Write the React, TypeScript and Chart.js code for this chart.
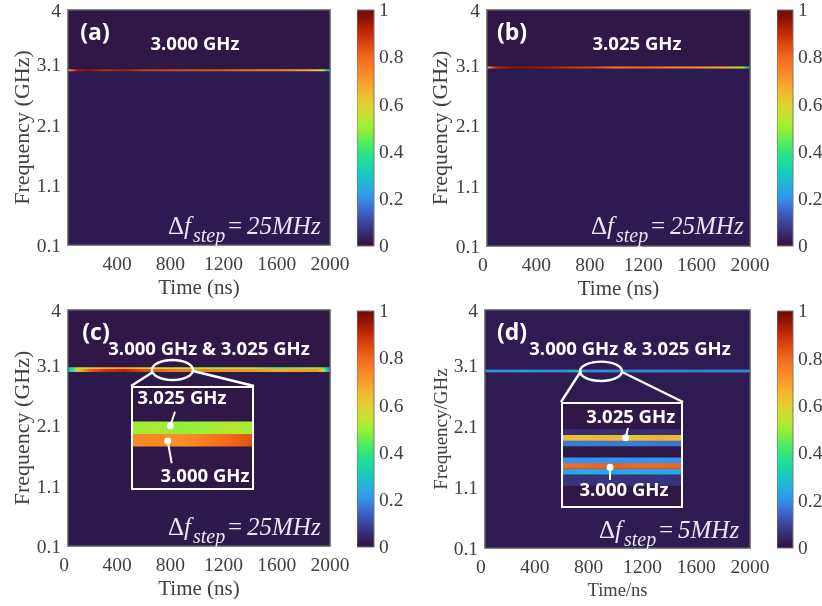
import React, { useEffect, useRef } from "react";
import { Chart, registerables } from "chart.js";

Chart.register(...registerables);

// ---------- data ----------
const freqTicks = [0.1, 1.1, 2.1, 3.1, 4];
const timeTicksNoZero = [400, 800, 1200, 1600, 2000];
const timeTicks = [0, 400, 800, 1200, 1600, 2000];
const colorTicks = [0, 0.2, 0.4, 0.6, 0.8, 1];

const colorPositions = [0, 0.05, 0.1, 0.15, 0.2, 0.25, 0.3, 0.35, 0.4, 0.45, 0.5, 0.55, 0.6, 0.65, 0.7, 0.75, 0.8, 0.85, 0.9, 0.95, 1];
const colorValues = ["#30123b", "#37296e", "#3b469c", "#3d66c8", "#3490ee", "#25aee0", "#1ac6c0", "#1cdca0", "#30e67c", "#62ee52", "#9cef34", "#c4e42e", "#e2d030", "#f3b82e", "#fa9c2a", "#f88224", "#f2681c", "#de4a10", "#c42c08", "#9a1606", "#6e0a08"];

const timeA = [30, 60, 100, 200, 300, 450, 600, 800, 1000, 1200, 1400, 1600, 1800, 1900, 1950, 1975, 2000];
const ampA = [0.55, 0.8, 0.93, 0.97, 0.9, 0.94, 0.88, 0.86, 0.84, 0.83, 0.78, 0.76, 0.7, 0.62, 0.55, 0.3, 0.2];
const ampB = [0.5, 0.78, 0.9, 0.95, 0.96, 0.94, 0.9, 0.86, 0.76, 0.8, 0.74, 0.72, 0.66, 0.58, 0.52, 0.3, 0.2];

const timeC = [30, 60, 100, 200, 300, 450, 600, 800, 1000, 1200, 1400, 1600, 1800, 1900, 1950, 1975, 2000];
const ampC3025 = [0.28, 0.34, 0.5, 0.62, 0.66, 0.68, 0.62, 0.56, 0.5, 0.5, 0.52, 0.44, 0.48, 0.5, 0.44, 0.3, 0.2];
const ampC3000 = [0.28, 0.36, 0.62, 0.82, 0.88, 0.92, 0.85, 0.78, 0.76, 0.74, 0.72, 0.68, 0.7, 0.72, 0.62, 0.34, 0.2];

const timeD = [30, 100, 200, 300, 400, 500, 600, 700, 800, 900, 1000, 1100, 1200, 1400, 1600, 1800, 1900, 1975, 2000];
const ampD = [0.24, 0.26, 0.23, 0.3, 0.24, 0.26, 0.22, 0.33, 0.21, 0.25, 0.22, 0.21, 0.23, 0.21, 0.22, 0.21, 0.2, 0.23, 0.3];
const ampDHalo = [0.12, 0.12, 0.11, 0.12, 0.12, 0.11, 0.12, 0.12, 0.11, 0.12, 0.12, 0.11, 0.12, 0.12, 0.11, 0.12, 0.12, 0.11, 0.12];

const insetTimeC = [650, 710, 770, 830, 890, 950];
const insetC3025 = [0.5, 0.52, 0.49, 0.5, 0.53, 0.5];
const insetC3000 = [0.73, 0.74, 0.72, 0.76, 0.8, 0.84];

const insetTimeD = [650, 710, 770, 830, 890, 950];
const insetD3030 = [0.06, 0.05, 0.06, 0.05, 0.06, 0.05];
const insetD3025 = [0.64, 0.63, 0.65, 0.62, 0.66, 0.64];
const insetD3020 = [0.17, 0.18, 0.17, 0.18, 0.17, 0.17];
const insetD3005 = [0.21, 0.2, 0.21, 0.2, 0.21, 0.2];
const insetD3000 = [0.78, 0.8, 0.82, 0.8, 0.8, 0.81];
const insetD2995 = [0.23, 0.24, 0.23, 0.24, 0.23, 0.24];
const insetD2990 = [0.07, 0.06, 0.07, 0.06, 0.07, 0.06];

// ---------- helpers ----------
const STRIP = "#2f1747";
const SERIF = '"Liberation Serif", "Times New Roman", serif';
const SANS = '"Open Sans", "Noto Sans", sans-serif';
const TEXT = "#404040";
const FRAME = "#5a5a5a";

function hexToRgb(h: string) {
  return [parseInt(h.slice(1, 3), 16), parseInt(h.slice(3, 5), 16), parseInt(h.slice(5, 7), 16)];
}
function colormap(v: number) {
  let i = 0;
  while (i < colorPositions.length - 2 && v > colorPositions[i + 1]) i++;
  const t = Math.max(0, Math.min(1, (v - colorPositions[i]) / (colorPositions[i + 1] - colorPositions[i])));
  const a = hexToRgb(colorValues[i]);
  const b = hexToRgb(colorValues[i + 1]);
  return `rgb(${a.map((c, k) => Math.round(c + (b[k] - c) * t)).join(",")})`;
}

function track(times: number[], freq: number, amps: number[], width: number) {
  return {
    data: times.map((t) => ({ x: t, y: freq })),
    showLine: true,
    pointRadius: 0,
    borderWidth: width,
    borderCapStyle: "butt",
    borderColor: (ctx: any) => {
      const chart = ctx.chart;
      if (!chart.chartArea || !chart.scales.x) return colormap(amps[0]);
      const x0 = chart.scales.x.getPixelForValue(times[0]);
      const x1 = chart.scales.x.getPixelForValue(times[times.length - 1]);
      const g = chart.ctx.createLinearGradient(x0, 0, x1, 0);
      times.forEach((t, i) => g.addColorStop((t - times[0]) / (times[times.length - 1] - times[0]), colormap(amps[i])));
      return g;
    },
  };
}

// Chart.js reserves half a tick label beyond the plot; the canvas margins already hold it.
function noScalePadding(s: any) {
  s.paddingTop = 0;
  s.paddingBottom = 0;
  s.paddingLeft = 0;
  s.paddingRight = 0;
}

type Txt = { s: string; x: number; y: number; size?: number };
type Panel = {
  key: string;
  left: number; right: number; top: number; bottom: number;
  xTicks: number[];
  yTitle: string; xTitle: string;
  yTitleSize: number; xTitleSize: number;
  yTitlePad: number; xTitlePad: number;
  floor: string;
  strip: number | null;
  tracks: any[];
  letter: Txt;
  labels: Txt[];
  delta: { x: number; y: number; value: string };
  callout?: { cx: number; cy: number; rx: number; ry: number; lines: number[][] };
  cb: { left: number; right: number; top: number; bottom: number };
};

const panels: Panel[] = [
  {
    key: "a", left: 68, right: 330, top: 10, bottom: 245, xTicks: timeTicksNoZero,
    yTitle: "Frequency (GHz)", xTitle: "Time (ns)", yTitleSize: 22, xTitleSize: 21, yTitlePad: 10, xTitlePad: 6,
    floor: "#2c1a50", strip: 3.03,
    tracks: [track(timeA, 3.0, ampA, 2)],
    letter: { s: "(a)", x: 95, y: 33 },
    labels: [{ s: "3.000 GHz", x: 195, y: 45 }],
    delta: { x: 168, y: 234, value: "25MHz" },
    cb: { left: 357, right: 374, top: 10, bottom: 246 },
  },
  {
    key: "b", left: 487, right: 750, top: 10, bottom: 246, xTicks: timeTicks,
    yTitle: "Frequency (GHz)", xTitle: "Time (ns)", yTitleSize: 22, xTitleSize: 21, yTitlePad: 9, xTitlePad: 6,
    floor: "#2c1a50", strip: 3.08,
    tracks: [track(timeA, 3.05, ampB, 2)],
    letter: { s: "(b)", x: 512, y: 33 },
    labels: [{ s: "3.025 GHz", x: 637, y: 45 }],
    delta: { x: 591, y: 234, value: "25MHz" },
    cb: { left: 777, right: 793, top: 10, bottom: 246 },
  },
  {
    key: "c", left: 68, right: 330, top: 310, bottom: 546, xTicks: timeTicks,
    yTitle: "Frequency (GHz)", xTitle: "Time (ns)", yTitleSize: 22, xTitleSize: 21, yTitlePad: 10, xTitlePad: 6,
    floor: "#2c1a4c", strip: 3.05,
    tracks: [track(timeC, 3.0, ampC3000, 3), track(timeC, 3.035, ampC3025, 2.4)],
    letter: { s: "(c)", x: 96, y: 333 },
    labels: [{ s: "3.000 GHz & 3.025 GHz", x: 209, y: 350 }],
    delta: { x: 168, y: 535, value: "25MHz" },
    callout: { cx: 172.5, cy: 370, rx: 20.5, ry: 10, lines: [[153, 372, 131, 386], [193, 371, 254, 386]] },
    cb: { left: 357, right: 374, top: 311, bottom: 547 },
  },
  {
    key: "d", left: 485, right: 750, top: 310, bottom: 548, xTicks: timeTicks,
    yTitle: "Frequency/GHz", xTitle: "Time/ns", yTitleSize: 19, xTitleSize: 18.5, yTitlePad: 14, xTitlePad: 8,
    floor: "#2d1b52", strip: null,
    tracks: [track(timeD, 3.0, ampD, 1.6), track(timeD, 3.0, ampDHalo, 3.6)],
    letter: { s: "(d)", x: 512, y: 333 },
    labels: [{ s: "3.000 GHz & 3.025 GHz", x: 630, y: 350 }],
    delta: { x: 599, y: 538, value: "5MHz" },
    callout: { cx: 601, cy: 371.3, rx: 21, ry: 9.7, lines: [[581, 371, 561, 402], [622, 372, 683, 402]] },
    cb: { left: 777, right: 793, top: 311, bottom: 548 },
  },
];

type Inset = {
  key: string;
  left: number; right: number; top: number; bottom: number;
  tMin: number; tMax: number; fMin: number; fMax: number;
  tracks: any[];
  labels: Txt[];
  dots: number[][];
  leaders: number[][];
};

const insets: Inset[] = [
  {
    key: "ic", left: 131, right: 254, top: 386, bottom: 490,
    tMin: 650, tMax: 950, fMin: 2.9005, fMax: 3.1085,
    tracks: [track(insetTimeC, 3.025, insetC3025, 12.5), track(insetTimeC, 3.0, insetC3000, 12.5)],
    labels: [{ s: "3.025 GHz", x: 182, y: 399 }, { s: "3.000 GHz", x: 205, y: 477 }],
    dots: [[170.3, 425.7], [167.7, 441]],
    leaders: [[170.3, 425.7, 175, 411.7], [167.7, 441, 171.7, 463.3]],
  },
  {
    key: "id", left: 561, right: 683, top: 402, bottom: 508,
    tMin: 650, tMax: 950, fMin: 2.9627, fMax: 3.0567,
    tracks: [
      track(insetTimeD, 3.03, insetD3030, 5.8),
      track(insetTimeD, 3.025, insetD3025, 5.8),
      track(insetTimeD, 3.02, insetD3020, 5.8),
      track(insetTimeD, 3.005, insetD3005, 5.8),
      track(insetTimeD, 3.0, insetD3000, 5.8),
      track(insetTimeD, 2.995, insetD2995, 5.8),
      track(insetTimeD, 2.99, insetD2990, 5.8),
      track(insetTimeD, 2.985, insetD2990, 5.8),
    ],
    labels: [{ s: "3.025 GHz", x: 630.7, y: 418 }, { s: "3.000 GHz", x: 624, y: 491 }],
    dots: [[625.7, 437.7], [610, 467.3]],
    leaders: [[625.7, 437.7, 628, 428], [610, 467.3, 610, 480]],
  },
];

const M = { l: 68, r: 24, t: 10, b: 62 };

function sansLabel(ctx: CanvasRenderingContext2D, t: Txt, size: number) {
  ctx.font = `bold ${size}px ${SANS}`;
  ctx.fillStyle = "#ffffff";
  ctx.textAlign = "center";
  ctx.textBaseline = "middle";
  ctx.fillText(t.s, t.x, t.y);
}

function makePanel(canvas: HTMLCanvasElement, p: Panel) {
  const originX = p.left - M.l;
  const originY = p.top - M.t;
  const plugin = {
    id: "panelDecor",
    beforeDatasetsDraw(chart: any) {
      const { ctx, chartArea: a, scales } = chart;
      ctx.save();
      ctx.fillStyle = p.floor;
      ctx.fillRect(a.left, a.top, a.right - a.left, a.bottom - a.top);
      if (p.strip !== null) {
        ctx.fillStyle = STRIP;
        ctx.fillRect(a.left, a.top, a.right - a.left, scales.y.getPixelForValue(p.strip) - a.top);
      }
      ctx.restore();
    },
    afterDraw(chart: any) {
      const { ctx, chartArea: a } = chart;
      ctx.save();
      ctx.strokeStyle = FRAME;
      ctx.lineWidth = 1.5;
      ctx.strokeRect(a.left, a.top, a.right - a.left, a.bottom - a.top);
      ctx.translate(-originX, -originY);
      sansLabel(ctx, p.letter, 23);
      p.labels.forEach((t) => sansLabel(ctx, t, 18.5));
      // delta f label
      const d = p.delta;
      ctx.fillStyle = "#ebe6f2";
      ctx.textAlign = "left";
      ctx.textBaseline = "alphabetic";
      ctx.font = `25px ${SERIF}`;
      ctx.fillText("Δ", d.x, d.y);
      ctx.font = `italic 25px ${SERIF}`;
      ctx.fillText("f", d.x + 16, d.y);
      ctx.font = `italic 20px ${SERIF}`;
      ctx.fillText("step", d.x + 25, d.y + 8);
      ctx.font = `25px ${SERIF}`;
      ctx.fillText("=", d.x + 60, d.y);
      ctx.font = `italic 25px ${SERIF}`;
      ctx.fillText(d.value, d.x + 79, d.y);
      if (p.callout) {
        const c = p.callout;
        ctx.strokeStyle = "#ffffff";
        ctx.lineWidth = 2.4;
        ctx.beginPath();
        ctx.ellipse(c.cx, c.cy, c.rx, c.ry, 0, 0, Math.PI * 2);
        ctx.stroke();
        c.lines.forEach((l) => {
          ctx.beginPath();
          ctx.moveTo(l[0], l[1]);
          ctx.lineTo(l[2], l[3]);
          ctx.stroke();
        });
      }
      ctx.restore();
    },
  };
  canvas.width = p.right - p.left + M.l + M.r;
  canvas.height = p.bottom - p.top + M.t + M.b;
  return new Chart(canvas, {
    type: "scatter",
    data: { datasets: p.tracks },
    plugins: [plugin],
    options: {
      responsive: false,
      animation: false,
      devicePixelRatio: 1,
      layout: { padding: { top: M.t, right: M.r, left: 0, bottom: 0 } },
      plugins: { legend: { display: false }, tooltip: { enabled: false } },
      scales: {
        x: {
          type: "linear",
          min: 30,
          max: 2000,
          afterBuildTicks: (s: any) => { s.ticks = p.xTicks.map((value) => ({ value })); },
          afterFit: (s: any) => { s.height = M.b; noScalePadding(s); },
          grid: { display: false, drawTicks: false },
          border: { display: false },
          ticks: { color: TEXT, font: { family: SERIF, size: 19.5 }, autoSkip: false, maxRotation: 0, padding: 8, callback: (v: any) => String(v) },
          title: { display: true, text: p.xTitle, color: TEXT, font: { family: SERIF, size: p.xTitleSize }, padding: { top: 0, bottom: p.xTitlePad } },
        },
        y: {
          type: "linear",
          min: 0.1,
          max: 4,
          afterBuildTicks: (s: any) => { s.ticks = freqTicks.map((value) => ({ value })); },
          afterFit: (s: any) => { s.width = M.l; noScalePadding(s); },
          grid: { display: false, drawTicks: false },
          border: { display: false },
          ticks: { color: TEXT, font: { family: SERIF, size: 19.5 }, autoSkip: false, padding: 7, labelOffset: 2, callback: (v: any) => String(v) },
          title: { display: true, text: p.yTitle, color: TEXT, font: { family: SERIF, size: p.yTitleSize }, padding: { top: p.yTitlePad, bottom: 0 } },
        },
      },
    } as any,
  });
}

function makeInset(canvas: HTMLCanvasElement, s: Inset) {
  const plugin = {
    id: "insetDecor",
    beforeDatasetsDraw(chart: any) {
      const { ctx, width, height } = chart;
      ctx.save();
      ctx.fillStyle = STRIP;
      ctx.fillRect(0, 0, width, height);
      ctx.restore();
    },
    afterDraw(chart: any) {
      const { ctx, width, height } = chart;
      ctx.save();
      ctx.strokeStyle = "#ffffff";
      ctx.lineWidth = 2;
      ctx.strokeRect(1, 1, width - 2, height - 2);
      ctx.translate(-s.left, -s.top);
      s.leaders.forEach((l) => {
        ctx.beginPath();
        ctx.moveTo(l[0], l[1]);
        ctx.lineTo(l[2], l[3]);
        ctx.stroke();
      });
      ctx.fillStyle = "#ffffff";
      s.dots.forEach((d) => {
        ctx.beginPath();
        ctx.arc(d[0], d[1], 3.5, 0, Math.PI * 2);
        ctx.fill();
      });
      s.labels.forEach((t) => sansLabel(ctx, t, 18.5));
      ctx.restore();
    },
  };
  canvas.width = s.right - s.left;
  canvas.height = s.bottom - s.top;
  return new Chart(canvas, {
    type: "scatter",
    data: { datasets: s.tracks },
    plugins: [plugin],
    options: {
      responsive: false,
      animation: false,
      devicePixelRatio: 1,
      layout: { padding: 0 },
      plugins: { legend: { display: false }, tooltip: { enabled: false } },
      scales: {
        x: { type: "linear", display: false, min: s.tMin, max: s.tMax },
        y: { type: "linear", display: false, min: s.fMin, max: s.fMax },
      },
    } as any,
  });
}

function makeColorbar(canvas: HTMLCanvasElement, p: Panel) {
  const cb = p.cb;
  const labelRoom = 46;
  canvas.width = cb.right - cb.left + labelRoom;
  canvas.height = cb.bottom - cb.top + 24;
  const frame = {
    id: "cbFrame",
    afterDraw(chart: any) {
      const { ctx, chartArea: a } = chart;
      ctx.save();
      ctx.strokeStyle = "#777777";
      ctx.lineWidth = 1;
      ctx.strokeRect(a.left, a.top, a.right - a.left, a.bottom - a.top);
      ctx.restore();
    },
  };
  return new Chart(canvas, {
    type: "bar",
    data: {
      labels: ["scale"],
      datasets: [{
        data: [[0, 1]],
        barPercentage: 1,
        categoryPercentage: 1,
        backgroundColor: (ctx: any) => {
          const chart = ctx.chart;
          if (!chart.chartArea) return colorValues[0];
          const g = chart.ctx.createLinearGradient(0, chart.chartArea.bottom, 0, chart.chartArea.top);
          colorPositions.forEach((pos, i) => g.addColorStop(pos, colorValues[i]));
          return g;
        },
      }],
    },
    plugins: [frame],
    options: {
      responsive: false,
      animation: false,
      devicePixelRatio: 1,
      layout: { padding: { top: 12, bottom: 12, left: 0, right: 0 } },
      plugins: { legend: { display: false }, tooltip: { enabled: false } },
      scales: {
        x: { display: false },
        y: {
          position: "right",
          min: 0,
          max: 1,
          afterBuildTicks: (s: any) => { s.ticks = colorTicks.map((value) => ({ value })); },
          afterFit: (s: any) => { s.width = labelRoom; noScalePadding(s); },
          grid: { display: false, drawTicks: false },
          border: { display: false },
          ticks: { color: TEXT, font: { family: SERIF, size: 19.5 }, autoSkip: false, padding: 5, labelOffset: 1, callback: (v: any) => String(v) },
        },
      },
    } as any,
  });
}

export default function App() {
  const panelRefs = useRef<(HTMLCanvasElement | null)[]>([]);
  const cbRefs = useRef<(HTMLCanvasElement | null)[]>([]);
  const insetRefs = useRef<(HTMLCanvasElement | null)[]>([]);
  useEffect(() => {
    const charts: Chart[] = [];
    panels.forEach((p, i) => {
      charts.push(makePanel(panelRefs.current[i]!, p));
      charts.push(makeColorbar(cbRefs.current[i]!, p));
    });
    insets.forEach((s, i) => charts.push(makeInset(insetRefs.current[i]!, s)));
    return () => charts.forEach((c) => c.destroy());
  }, []);
  const abs = (left: number, top: number): React.CSSProperties => ({ position: "absolute", left, top, display: "block" });
  return (
    <div style={{ position: "fixed", left: 0, top: 0, width: 822, height: 606, background: "#ffffff", overflow: "hidden" }}>
      {panels.map((p, i) => (
        <canvas key={p.key} ref={(el) => { panelRefs.current[i] = el; }} style={abs(p.left - M.l, p.top - M.t)} />
      ))}
      {panels.map((p, i) => (
        <canvas key={p.key + "cb"} ref={(el) => { cbRefs.current[i] = el; }} style={abs(p.cb.left, p.cb.top - 12)} />
      ))}
      {insets.map((s, i) => (
        <canvas key={s.key} ref={(el) => { insetRefs.current[i] = el; }} style={abs(s.left, s.top)} />
      ))}
    </div>
  );
}
